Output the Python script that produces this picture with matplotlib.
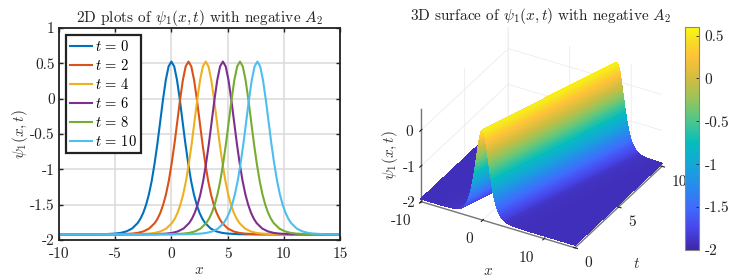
import numpy as np
import matplotlib
matplotlib.use("Agg")
import matplotlib.pyplot as plt
from matplotlib.cm import ScalarMappable
from matplotlib.colors import LinearSegmentedColormap, Normalize
from matplotlib.transforms import ScaledTranslation

plt.rcParams['font.family'] = ['cmr10', 'DejaVu Serif']
plt.rcParams['mathtext.fontset'] = 'cm'
plt.rcParams['axes.unicode_minus'] = False
plt.rcParams['axes.formatter.use_mathtext'] = True

# Values
times = [0, 2, 4, 6, 8, 10]
centers = [0.0, 1.52, 3.05, 4.58, 6.1, 7.65]
offset_right = [0, .25, .5, .75, 1, 1.25, 1.5, 1.75, 2, 2.25, 2.5, 2.75, 3, 3.5, 4, 4.5, 5, 6, 7, 25]
profile_right = [.525, .456, .263, -.015, -.33, -.643, -.921, -1.162, -1.353, -1.5, -1.614,
                 -1.698, -1.76, -1.838, -1.878, -1.899, -1.909, -1.918, -1.92, -1.92]
colors = ['#0072BD', '#D95319', '#EDB120', '#7E2F8E', '#77AC30', '#4DBEEE']
xticks2d = [-10, -5, 0, 5, 10, 15]
yticks2d = [1, 0.5, 0, -0.5, -1, -1.5, -2]
ylabels2d = ['1', '0.5', '0', '-0.5', '-1', '-1.5', '-2']
xticks3d = [-10, 0, 10]
tticks3d = [0, 5, 10]
zticks3d = [-2, -1, 0]
cticks = [-2, -1.5, -1, -0.5, 0, 0.5]
clabels = ['-2', '-1.5', '-1', '-0.5', '0', '0.5']
parula_stops = [(0, (.2422, .1504, .6603)), (.1, (.2803, .2782, .9221)), (.19, (.25, .42, .99)),
                (.29, (.15, .55, .92)), (.38, (.08, .65, .85)), (.48, (.02, .74, .74)),
                (.58, (.30, .78, .55)), (.68, (.60, .77, .35)), (.77, (.82, .74, .25)),
                (.87, (1.0, .76, .22)), (.94, (.97, .87, .14)), (1, (.98, .98, .06))]
parula = LinearSegmentedColormap.from_list('parula', parula_stops)

offsets = np.array([-v for v in offset_right[:0:-1]] + offset_right)
profile = np.array(profile_right[:0:-1] + profile_right)

W, H = 745, 280
fig = plt.figure(figsize=(W / 100, H / 100), dpi=100)


def box(x0, y0, x1, y1):
    return [x0 / W, 1 - y1 / H, (x1 - x0) / W, (y1 - y0) / H]


# Left panel
ax = fig.add_axes(box(59, 28, 340, 240))
for t, c, col in zip(times, centers, colors):
    ax.plot(offsets + c, profile, color=col, lw=1.5, label=rf'$t\,=\,{t}$')
ax.set_xlim(-10, 15)
ax.set_ylim(-2, 1)
ax.set_xticks(xticks2d, [str(v) for v in xticks2d])
ax.set_yticks(yticks2d, ylabels2d)
ax.grid(True, color='#dddddd', lw=1.2)
ax.set_axisbelow(True)
ax.tick_params(direction='in', length=3, width=1, labelsize=11, colors='#222222',
               top=True, right=True)
ax.tick_params(axis='x', pad=5)
ax.tick_params(axis='y', pad=3)
for s in ax.spines.values():
    s.set_linewidth(1.3)
    s.set_color('#222222')
ax.set_xlabel('$x$', fontsize=11, labelpad=2, color='#333333')
ax.set_ylabel(r'$\psi_1(x,t)$', fontsize=11, labelpad=0, color='#333333')
ax.set_title(r'2D plots of $\psi_1(x,t)$ with negative $A_2$', fontsize=11, pad=4, color='#222222')
leg = ax.legend(loc='upper left', bbox_to_anchor=(0.025, 0.967), borderaxespad=0, fontsize=10.5,
                fancybox=False, framealpha=1, edgecolor='#222222', handlelength=1.5,
                handletextpad=0.25, labelspacing=0.28, borderpad=0.25)
leg.get_frame().set_linewidth(1.6)

# Right panel: mesh follows the moving ridge, so colour bands stay along t
u_grid = np.arange(-18, 15.01, 0.05)
t_grid = np.arange(0, 10.01, 1.0)
c_t = np.interp(t_grid, times, centers)
X = np.clip(c_t[:, None] + u_grid[None, :], -10, 15)
T = np.repeat(t_grid[:, None], u_grid.size, axis=1)
Z = np.repeat(np.interp(u_grid, offsets, profile)[None, :], t_grid.size, axis=0)
norm = Normalize(-2, 0.6)

ax3 = fig.add_axes(box(538 - 132.5, 141 - 132.5, 538 + 132.5, 141 + 132.5), projection='3d')
ax3.patch.set_alpha(0)
ax3.set_proj_type('ortho')
ax3.view_init(elev=32, azim=-60.5)
ax3.set_box_aspect((177, 177, 110))
ax3.plot_surface(X, T, Z, facecolors=parula(norm(Z)), rcount=Z.shape[0], ccount=Z.shape[1],
                 linewidth=0.4, antialiased=False, shade=False)
ax3.set_xlim(-10, 15)
ax3.set_ylim(0, 10)
ax3.set_zlim(-2, 0.6)
ax3.set_xticks(xticks3d, [str(v) for v in xticks3d])
ax3.set_yticks(tticks3d, [str(v) for v in tticks3d])
ax3.set_zticks(zticks3d, [str(v) for v in zticks3d])
ax3.zaxis.set_ticks_position('lower')
ax3.zaxis.set_label_position('lower')
for a in (ax3.xaxis, ax3.yaxis, ax3.zaxis):
    a.set_pane_color((1, 1, 1, 0))
    a.pane.set_edgecolor((1, 1, 1, 0))
    a._axinfo['grid'].update(color='#ececec', linewidth=0.6)
    a.line.set_color('#777777')
    a.line.set_linewidth(1.0)
ax3.tick_params(labelsize=11, colors='#222222', pad=3)
ax3.zaxis.set_tick_params(pad=-3)
for lab in ax3.xaxis.get_ticklabels():
    lab.set_ha('right')
    lab.set_va('center')
for lab, ha in zip(ax3.yaxis.get_ticklabels(), ('right', 'right', 'center')):
    lab.set_ha(ha)
    lab.set_va('center')
for lab in ax3.zaxis.get_ticklabels():
    lab.set_va('center')
for a in (ax3.xaxis, ax3.yaxis, ax3.zaxis):
    a.set_rotate_label(False)
ax3.set_xlabel('$x$', fontsize=11, labelpad=0, color='#333333', rotation=0)
ax3.set_ylabel('$t$', fontsize=11, labelpad=0, color='#333333', rotation=0)
ax3.set_zlabel(r'$\psi_1(x,t)$', fontsize=11, labelpad=0, color='#333333', rotation=90)


def shift_label(axis, dx, dy):
    tr = ax3.transData + ScaledTranslation(dx / 100, dy / 100, fig.dpi_scale_trans)
    axis.label.get_transform = lambda: tr


shift_label(ax3.xaxis, 8, -9)
shift_label(ax3.yaxis, -14, -28)
shift_label(ax3.zaxis, 20, 8)
fig.text((360 + 543 / 3) / W, 1 - 16 / H, r'3D surface of $\psi_1(x,t)$ with negative $A_2$',
         fontsize=11, ha='center', va='center', color='#222222')

# Colour bar
cax = fig.add_axes(box(684.5, 27, 699, 250))
cb = fig.colorbar(ScalarMappable(norm=norm, cmap=parula), cax=cax)
cb.set_ticks(cticks, labels=clabels)
cb.ax.tick_params(direction='in', length=2, width=0.6, labelsize=11, pad=4, colors='#222222')
cb.outline.set_edgecolor('#888888')
cb.outline.set_linewidth(0.8)

fig.savefig('out.png', dpi=100)
